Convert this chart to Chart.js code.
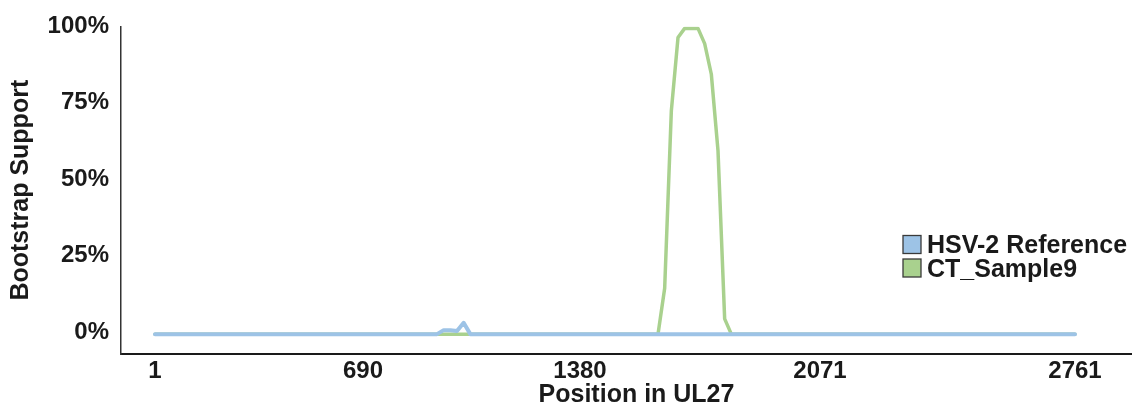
<!DOCTYPE html>
<html><head><meta charset="utf-8">
<script src="https://cdn.jsdelivr.net/npm/chart.js@4.4.1/dist/chart.umd.min.js"></script>
<style>html,body{margin:0;padding:0;background:#fff;overflow:hidden;} #wrap{width:1132px;height:406px;position:relative;}</style>
</head><body><div id="wrap"><canvas id="c" width="1132" height="406"></canvas></div>
<script>
const seriesNames = ['HSV-2 Reference', 'CT_Sample9'];
const hsvPositions = [1, 847, 867, 887, 907, 927, 947, 2761];
const hsvValues    = [0, 0, 1.3, 1.3, 1.0, 3.7, 0, 0];
const ctPositions  = [1, 1510, 1530, 1550, 1570, 1590, 1610, 1630, 1650, 1670, 1690, 1710, 1730, 2761];
const ctValues     = [0, 0, 15, 73, 97, 100, 100, 100, 95, 85, 60, 5, 0, 0];
const xTickPositions = [1, 625, 1276, 1996, 2761];
const xTickLabels    = ['1', '690', '1380', '2071', '2761'];
const yTickValues = [0, 25, 50, 75, 100];
const yTickLabels = ['0%', '25%', '50%', '75%', '100%'];
const seriesColors = ['#9DC3E6', '#A9D18E'];

const FONT = '"Liberation Sans", Arial, sans-serif';

const toPts = (xs, ys) => xs.map((x, i) => ({x: x, y: ys[i]}));

const legendPlugin = {
  id: 'boxLegend',
  afterLayout(chart) {
    // widen the x-axis box to the right so its title sits where the reference has it
    chart.scales.x.right += 22;
  },
  afterDraw(chart) {
    const ctx = chart.ctx;
    ctx.save();
    ctx.font = 'bold 25px ' + FONT;
    ctx.textBaseline = 'middle';
    ctx.textAlign = 'left';
    chart.data.datasets.forEach((ds, i) => {
      const bx = 903, by = 235.5 + i * 23.5;
      ctx.fillStyle = ds.borderColor;
      ctx.fillRect(bx, by, 18, 18);
      ctx.strokeStyle = '#3a3a3a';
      ctx.lineWidth = 1.3;
      ctx.strokeRect(bx, by, 18, 18);
      ctx.fillStyle = '#1a1a1a';
      ctx.fillText(ds.label, 927, by + 11);
    });
    ctx.restore();
  }
};

new Chart(document.getElementById('c'), {
  type: 'line',
  data: {
    datasets: [
      {label: seriesNames[0], data: toPts(hsvPositions, hsvValues), borderColor: seriesColors[0], backgroundColor: seriesColors[0], borderWidth: 4},
      {label: seriesNames[1], data: toPts(ctPositions, ctValues), borderColor: seriesColors[1], backgroundColor: seriesColors[1], borderWidth: 3.5}
    ]
  },
  options: {
    responsive: false,
    devicePixelRatio: 1,
    animation: false,
    layout: {padding: {left: 0, right: 2, top: 25, bottom: 0}},
    elements: {
      point: {radius: 0, hoverRadius: 0},
      line: {tension: 0, borderJoinStyle: 'round', borderCapStyle: 'round', fill: false}
    },
    plugins: {legend: {display: false}, tooltip: {enabled: false}},
    scales: {
      x: {
        type: 'linear',
        min: -101, max: 2926,
        grid: {display: false, drawTicks: false, tickLength: 0},
        border: {display: true, color: '#1a1a1a', width: 2},
        afterBuildTicks(s) { s.ticks = xTickPositions.map(v => ({value: v})); },
        afterFit(s) { s.height = 52; },
        ticks: {
          autoSkip: false, maxRotation: 0, padding: 3,
          color: '#1a1a1a',
          font: {family: FONT, size: 24, weight: 'bold'},
          callback: (v, i) => xTickLabels[i]
        },
        title: {display: true, text: 'Position in UL27', color: '#1a1a1a', padding: {top: 0, bottom: -4},
          font: {family: FONT, size: 25, weight: 'bold'}}
      },
      y: {
        min: -6.5, max: 100.65,
        grid: {display: false, drawTicks: false, tickLength: 0},
        border: {display: true, color: '#333333', width: 1.5},
        afterBuildTicks(s) { s.ticks = yTickValues.map(v => ({value: v})); },
        afterFit(s) { s.width = 121; },
        ticks: {
          padding: 12, labelOffset: -2,
          color: '#1a1a1a',
          font: {family: FONT, size: 24, weight: 'bold'},
          callback: (v, i) => yTickLabels[i]
        },
        title: {display: true, text: 'Bootstrap Support', color: '#1a1a1a', padding: {top: 6, bottom: 0},
          font: {family: FONT, size: 25, weight: 'bold'}}
      }
    }
  },
  plugins: [legendPlugin]
});
</script>
</body></html>
